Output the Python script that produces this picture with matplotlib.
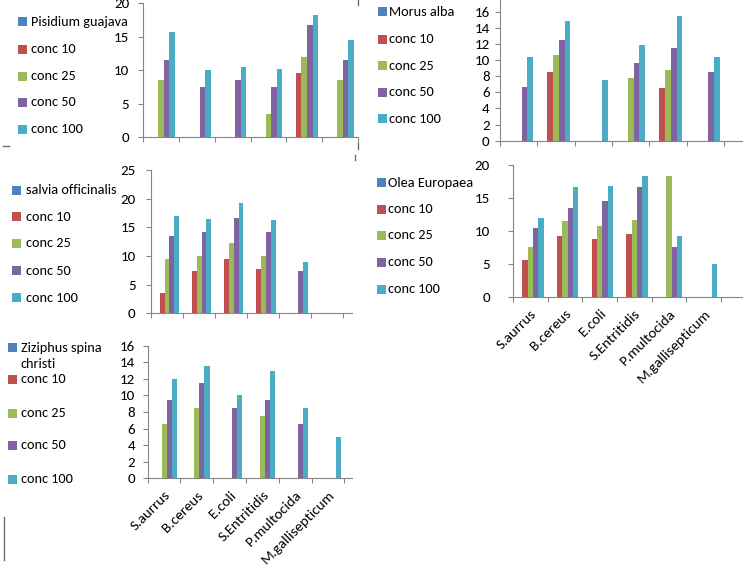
import numpy as np
import matplotlib
matplotlib.use('Agg')
import matplotlib.pyplot as plt
from matplotlib.lines import Line2D
from matplotlib.patches import Rectangle

plt.rcParams['font.family'] = ['Carlito', 'Lato', 'DejaVu Sans']
plt.rcParams['font.size'] = 10

W, H = 743, 569

bacteria = ['S.aurrus', 'B.cereus', 'E.coli', 'S.Entritidis', 'P.multocida', 'M.gallisepticum']
conc_names = ['conc 10', 'conc 25', 'conc 50', 'conc 100']
colors = ['#4F81BD', '#C0504D', '#9BBB59', '#8064A2', '#4BACC6']

# first series of every chart (the plant name) has no values
blank = [0, 0, 0, 0, 0, 0]

# inhibition zones, rows = conc 10, 25, 50, 100
pisidium = [[0, 0, 0, 0, 9.5, 0],
            [8.5, 0, 0, 3.4, 11.9, 8.5],
            [11.5, 7.5, 8.5, 7.5, 16.8, 11.5],
            [15.7, 10, 10.5, 10.2, 18.2, 14.5]]
morus = [[0, 8.5, 0, 0, 6.5, 0],
         [0, 10.6, 0, 7.8, 8.8, 0],
         [6.6, 12.5, 0, 9.6, 11.5, 8.5],
         [10.4, 14.8, 7.5, 11.9, 15.5, 10.4]]
salvia = [[3.6, 7.4, 9.4, 7.7, 0, 0],
          [9.4, 10, 12.3, 10, 0, 0],
          [13.4, 14.2, 16.6, 14.2, 7.4, 0],
          [17, 16.4, 19.3, 16.2, 9, 0]]
olea = [[5.5, 9.2, 8.7, 9.5, 0, 0],
        [7.5, 11.5, 10.8, 11.7, 18.3, 0],
        [10.5, 13.5, 14.6, 16.6, 7.6, 0],
        [12, 16.6, 16.8, 18.3, 9.2, 5]]
ziziphus = [[0, 0, 0, 0, 0, 0],
            [6.5, 8.5, 0, 7.5, 0, 0],
            [9.5, 11.5, 8.5, 9.5, 6.5, 0],
            [12, 13.5, 10, 13, 8.5, 5]]

fig = plt.figure(figsize=(W / 100, H / 100), dpi=100)
axis_col = '#868686'


def panel(left, right, top, bottom, xmax, ymax, step, ytop, values, ypad, labels=False):
    # pixel box -> figure fraction
    ax = fig.add_axes([left / W, 1 - bottom / H, (right - left) / W, (bottom - top) / H])
    x = np.arange(6)
    w = 1 / 6.5
    allvals = [blank] + values
    for i, v in enumerate(allvals):
        ax.bar(x + 0.5 + (i - 2) * w, v, w, color=colors[i], linewidth=0)
    ax.set_xlim(0, xmax)
    ax.set_ylim(0, ymax)
    ax.set_yticks(np.arange(0, ytop + 0.1, step))
    ax.set_xticks(np.arange(7))
    ax.set_xticklabels([])
    if labels:
        ax.set_xticks(x + 0.5, minor=True)
        ax.set_xticklabels(bacteria, minor=True, rotation=45, ha='right', va='top',
                           rotation_mode='anchor', fontsize=10.8)
    ax.tick_params(axis='x', which='minor', length=0, pad=7.5)
    ax.tick_params(axis='both', which='major', length=3.5, color=axis_col, width=0.8)
    ax.tick_params(axis='y', pad=ypad, labelsize=10.8)
    for s in ['top', 'right']:
        ax.spines[s].set_visible(False)
    for s in ['left', 'bottom']:
        ax.spines[s].set_color(axis_col)
        ax.spines[s].set_linewidth(0.8)
    return ax


def legend(mx, tx, ys, names, extra=None):
    for y, name, c in zip(ys, names, colors):
        fig.add_artist(Rectangle((mx / W, 1 - (y + 4.5) / H), 9 / W, 9 / H,
                                 transform=fig.transFigure, color=c, lw=0))
        fig.text(tx / W, 1 - y / H, name, va='center', ha='left', fontsize=10.3)
    if extra:
        fig.text(tx / W, 1 - extra[1] / H, extra[0], va='center', ha='left', fontsize=10.3)


panel(143, 358, 3.3, 137, 6, 20, 5, 20, pisidium, 6.5)
legend(18, 31, [21.7, 49, 76, 102.3, 129.3], ['Pisidium guajava'] + conc_names)

panel(500, 743, 0, 140.7, 6.51, 17.43, 2, 16, morus, 4)
legend(378, 389, [11.7, 39, 65.7, 92.3, 119], ['Morus alba'] + conc_names)

panel(151, 351.7, 170, 313.3, 6.26, 25, 5, 25, salvia, 7.5)
legend(12, 25.7, [190, 216.7, 243.3, 270.7, 297.7], ['salvia officinalis'] + conc_names)

panel(513, 743, 165, 296.7, 6.63, 20, 5, 20, olea, 13, labels=True)
legend(377, 388, [182.7, 209.3, 235.3, 262.3, 289.3], ['Olea Europaea'] + conc_names)

panel(147.7, 351.7, 345.7, 478.3, 6.22, 16, 2, 16, ziziphus, 5.5, labels=True)
legend(8.3, 20.7, [347.7, 379.3, 413.3, 445, 479.3], ['Ziziphus spina'] + conc_names,
       extra=('christi', 364.3))

# leftover edges of the pasted chart images
for (x0, y0, x1, y1) in [(3, 145.5, 9, 145.5), (358, 143, 358, 149), (355, 155, 355, 160),
                         (358, 0, 358, 5), (4, 517, 4, 560)]:
    fig.add_artist(Line2D([x0 / W, x1 / W], [1 - y0 / H, 1 - y1 / H], color='#707070', lw=1))

fig.savefig('out.png', dpi=100)
